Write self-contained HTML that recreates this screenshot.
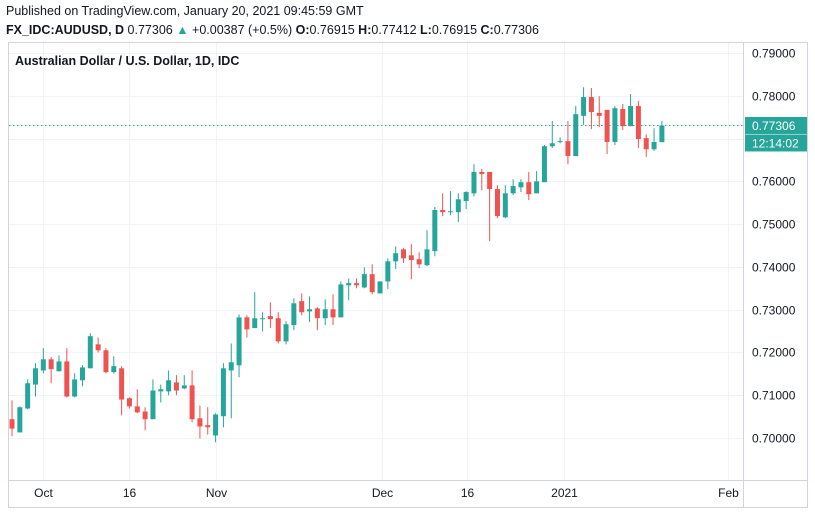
<!DOCTYPE html>
<html><head><meta charset="utf-8"><style>
body{margin:0;background:#fff;font-family:"Liberation Sans",sans-serif;}
svg text{font-family:"Liberation Sans",sans-serif;}
</style></head><body>
<svg id="c" width="815" height="513" xmlns="http://www.w3.org/2000/svg">
<rect width="815" height="513" fill="#fff"/>
<text x="6" y="15" font-size="12.5" fill="#131722">Published on TradingView.com, January 20, 2021 09:45:59 GMT</text>
<text x="6" y="34" font-size="12.5" fill="#131722"><tspan font-weight="bold">FX_IDC:AUDUSD, D</tspan> 0.77306 <tspan fill="#26a69a">▲</tspan> +0.00387 (+0.5%) <tspan font-weight="bold">O:</tspan>0.76915 <tspan font-weight="bold">H:</tspan>0.77412 <tspan font-weight="bold">L:</tspan>0.76915 <tspan font-weight="bold">C:</tspan>0.77306</text>
<rect x="8.5" y="42.5" width="799" height="465" fill="none" stroke="#d1d4dc"/>
<line x1="743.5" y1="42" x2="743.5" y2="508" stroke="#d1d4dc"/>
<line x1="8" y1="480.5" x2="808" y2="480.5" stroke="#d1d4dc"/>
<g id="grid"></g>
<g id="candles"></g>
<g id="axes"></g>
<text x="15" y="65" font-size="12.5" fill="#131722" font-weight="bold">Australian Dollar / U.S. Dollar, 1D, IDC</text>
</svg>
<script>
const opens=[.7044,.7013,.7069,.7125,.7158,.7184,.7156,.7179,.7097,.7135,.7163,.7219,.7205,.7154,.7163,.7093,.7074,.7062,.7044,.7109,.7109,.7130,.7116,.7123,.7046,.7030,.7006,.7051,.7158,.7170,.7282,.7257,.7278,.7285,.7280,.7226,.7264,.7320,.7296,.7303,.7280,.7301,.7282,.7357,.7362,.7352,.7383,.7338,.7366,.7413,.7441,.7427,.7418,.7404,.7437,.7533,.7528,.7528,.7554,.7572,.7622,.7622,.7582,.7516,.7572,.7586,.7598,.7572,.7598,.7682,.7692,.7694,.7659,.7753,.7797,.7760,.7767,.7692,.7769,.7729,.7776,.7701,.7675,.76915];
const highs=[.7088,.7074,.7137,.7175,.7210,.7189,.7193,.7210,.7151,.7170,.7245,.7235,.7210,.7191,.7168,.7095,.7114,.7072,.7137,.7125,.7158,.7147,.7147,.7158,.7076,.7072,.7058,.7175,.7221,.7289,.7287,.7341,.7294,.7317,.7294,.7273,.7327,.7338,.7331,.7306,.7324,.7336,.7366,.7373,.7373,.7399,.7406,.7366,.7420,.7448,.7444,.7453,.7434,.7486,.7540,.7572,.7577,.7572,.7577,.7640,.7629,.7622,.7591,.7591,.7605,.7605,.7622,.7624,.7685,.7741,.7703,.7741,.7776,.7820,.7818,.7799,.7767,.7776,.7781,.7804,.7788,.7710,.7724,.77412];
const lows=[.7004,.7013,.7067,.7097,.7151,.7128,.7156,.7095,.7095,.7121,.7163,.7200,.7151,.7151,.7053,.7069,.7058,.7018,.7044,.7083,.7100,.7100,.7114,.7037,.6999,.7008,.6990,.7025,.7046,.7142,.7235,.7257,.7249,.7257,.7221,.7219,.7252,.7287,.7271,.7252,.7264,.7264,.7282,.7322,.7350,.7350,.7336,.7338,.7348,.7395,.7409,.7371,.7397,.7402,.7425,.7519,.7521,.7505,.7535,.7565,.7579,.7460,.7514,.7514,.7568,.7575,.7556,.7572,.7598,.7678,.7689,.7640,.7659,.7732,.7722,.7727,.7664,.7685,.7720,.7729,.7678,.7657,.7671,.76915];
const closes=[.7022,.7072,.7128,.7163,.7184,.7161,.7179,.7097,.7137,.7165,.7238,.7205,.7154,.7168,.7090,.7074,.7060,.7044,.7111,.7114,.7135,.7111,.7123,.7044,.7027,.7025,.7055,.7163,.7177,.7282,.7254,.7280,.7280,.7278,.7226,.7266,.7315,.7294,.7301,.7280,.7301,.7282,.7359,.7362,.7357,.7383,.7341,.7366,.7413,.7432,.7420,.7416,.7406,.7441,.7533,.7528,.7530,.7558,.7575,.7622,.7617,.7582,.7519,.7572,.7589,.7598,.7570,.7600,.7682,.7689,.7694,.7659,.7757,.7797,.7762,.7753,.7692,.7771,.7729,.7776,.7699,.7675,.7692,.77306];
const priceTicks=[0.79,0.78,0.77,0.76,0.75,0.74,0.73,0.72,0.71,0.70];
const timeLabels=["Oct","16","Nov","Dec","16","2021","Feb"];
const timeLabelIdx=[4,15,26.1,47.2,58.1,70.5,91.4];
const lastPrice=0.77306;

const NS="http://www.w3.org/2000/svg";
const yS=p=>53+(0.79-p)*4278;
const xS=i=>12+i*7.83;
function mk(tag,attrs,parent){const e=document.createElementNS(NS,tag);for(const k in attrs)e.setAttribute(k,attrs[k]);parent.appendChild(e);return e;}
const grid=document.getElementById('grid'),cg=document.getElementById('candles'),ax=document.getElementById('axes');
priceTicks.forEach(p=>{
  const y=Math.round(yS(p))+0.5;
  const gl=mk('line',{x1:9,x2:743,y1:y,y2:y,stroke:'#f0f3fa'},grid);
  
  
  const t=mk('text',{x:752,y:y+4,'font-size':12,fill:'#131722'},ax);
  t.textContent=p.toFixed(5);
  
  
});
timeLabels.forEach((l,k)=>{
  const x=Math.round(xS(timeLabelIdx[k]))+0.5;
  const gl=mk('line',{x1:x,x2:x,y1:43,y2:480,stroke:'#f0f3fa'},grid);
  
  
  const t=mk('text',{x:x,y:497,'font-size':12,fill:'#131722','text-anchor':'middle'},ax);
  t.textContent=l;
  
  
});
// last price line
const ly=yS(lastPrice);
const pl=mk('line',{x1:9,x2:743,y1:ly,y2:ly,stroke:'#26a69a','stroke-dasharray':'1.5 2.5'},grid);


opens.forEach((o,i)=>{
  const c=closes[i],up=c>=o,col=up?'#26a69a':'#ef5350',x=xS(i);
  const g=mk('g',{},cg);
  
  
  mk('line',{x1:x,x2:x,y1:yS(highs[i]),y2:yS(lows[i]),stroke:col,'stroke-width':1},g);
  const t=yS(Math.max(o,c)),b=yS(Math.min(o,c));
  mk('rect',{x:x-2.5,y:t,width:5,height:Math.max(1,b-t),fill:col},g);
});
const tag=mk('rect',{x:745,y:ly-8.5,width:62,height:17,fill:'#26a69a'},ax);


const tt=mk('text',{x:752,y:ly+4.5,'font-size':12,fill:'#fff'},ax);
tt.textContent=lastPrice.toFixed(5);


const cd=mk('rect',{x:745,y:ly+9,width:62,height:17,fill:'#26a69a'},ax);


const ct=mk('text',{x:752,y:ly+22,'font-size':12,fill:'#fff'},ax);
ct.textContent='12:14:02';


</script>
</body></html>
